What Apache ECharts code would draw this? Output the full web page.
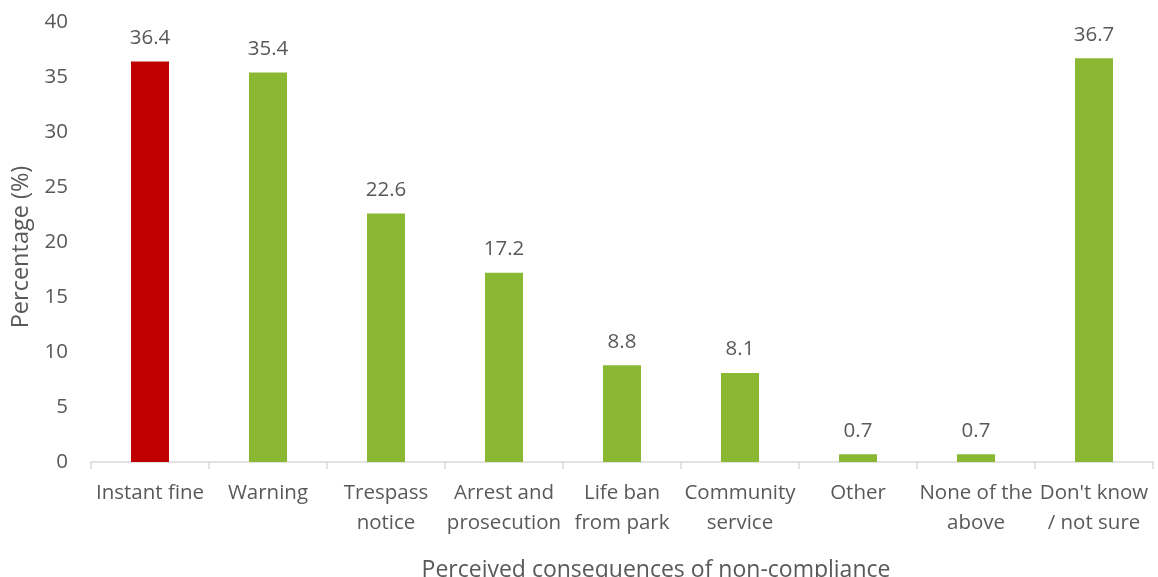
<!DOCTYPE html>
<html>
<head>
<meta charset="utf-8">
<script src="https://cdn.jsdelivr.net/npm/echarts@6/dist/echarts.min.js"></script>
<style>
html,body{margin:0;padding:0;background:#fff;}
#chart{width:1158px;height:577px;}
</style>
</head>
<body>
<div id="chart"></div>
<script>
const categories = ['Instant fine', 'Warning', 'Trespass\nnotice', 'Arrest and\nprosecution', 'Life ban\nfrom park', 'Community\nservice', 'Other', 'None of the\nabove', "Don't know\n/ not sure"];
const values = [36.4, 35.4, 22.6, 17.2, 8.8, 8.1, 0.7, 0.7, 36.7];
const barColors = ['#C00000', '#8AB833', '#8AB833', '#8AB833', '#8AB833', '#8AB833', '#8AB833', '#8AB833', '#8AB833'];
const yTicks = { min: 0, max: 40, interval: 5 };

const font = '"Open Sans", "Noto Sans", sans-serif';
const textColor = '#595959';

const chart = echarts.init(document.getElementById('chart'));
chart.setOption({
  animation: false,
  grid: { left: 91, right: 5, top: 22, bottom: 115, containLabel: false, outerBoundsMode: 'none' },
  xAxis: {
    type: 'category',
    data: categories,
    name: 'Perceived consequences of non-compliance',
    nameLocation: 'middle',
    nameGap: 97,
    nameTextStyle: { color: textColor, fontFamily: font, fontSize: 23, padding: [0, 0, 0, 68] },
    axisLine: { lineStyle: { color: '#D9D9D9', width: 1.5 } },
    axisTick: { show: true, length: 7, lineStyle: { color: '#D9D9D9', width: 1.5 } },
    axisLabel: { color: textColor, fontFamily: font, fontSize: 20.5, lineHeight: 30, margin: 16, interval: 0 }
  },
  yAxis: {
    type: 'value',
    min: yTicks.min,
    max: yTicks.max,
    interval: yTicks.interval,
    name: 'Percentage (%)',
    nameLocation: 'middle',
    nameGap: 56,
    nameTextStyle: { color: textColor, fontFamily: font, fontSize: 23.5, padding: [0, 10, 0, 0] },
    splitLine: { show: false },
    axisLine: { show: false },
    axisTick: { show: false },
    axisLabel: { color: textColor, fontFamily: font, fontSize: 20.5, margin: 23 }
  },
  series: [{
    type: 'bar',
    data: values.map((v, i) => ({ value: v, itemStyle: { color: barColors[i] } })),
    barWidth: 38,
    label: {
      show: true,
      position: 'top',
      distance: 13,
      color: textColor,
      fontFamily: font,
      fontSize: 20.5,
      formatter: p => p.value.toFixed(1)
    }
  }]
});
</script>
</body>
</html>
